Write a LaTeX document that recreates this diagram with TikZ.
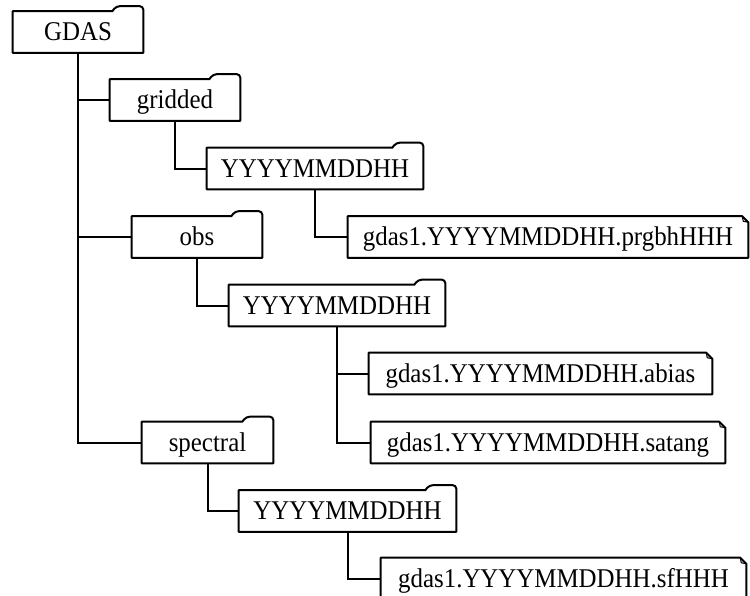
\documentclass[tikz,border=0pt]{standalone}
\usepackage{fontspec}
\setmainfont{Liberation Serif}
\usepackage{graphicx}
\usetikzlibrary{calc}
\newlength\px \setlength\px{0.75pt}
\newcommand\lbl[1]{\scalebox{0.92}[1]{#1}}
\tikzset{
  outline/.style={line width=1.5pt, line join=round},
  link/.style={line width=1.5pt},
  item/.style={inner sep=0pt, minimum height=41\px, text height=15.4pt, text depth=2pt,
    font=\fontsize{20.3}{24}\selectfont},
}
% folder outline with a tab on the upper right
\newcommand\folder[1]{%
  \draw[outline] ($(#1.north east)+(-31,0)$) -- (#1.north west) -- (#1.south west)
    -- (#1.south east) [rounded corners=2.5pt] -- ($(#1.north east)+(0,-5)$)
    -- ($(#1.north east)+(-27,-5)$) [sharp corners] -- cycle;}
% file outline with a folded upper right corner
\newcommand\docfile[1]{%
  \draw[outline] ($(#1.north east)+(-6,0)$) -- (#1.north west) -- (#1.south west)
    -- (#1.south east) -- ($(#1.north east)+(0,6)$) -- cycle;
  \draw[line width=0.8pt] ($(#1.north east)+(-6,0)$) -- ($(#1.north east)+(-5,5)$)
    -- ($(#1.north east)+(0,6)$);}
\begin{document}
\begin{tikzpicture}[x=0.75pt, y=-0.75pt]
  \useasboundingbox (0,0) rectangle (750,596);
  \clip (0,0) rectangle (750,596);

  % directories
  \node[item, minimum width=130\px] (gdas)     at (78,32)      {\lbl{GDAS}};
  \node[item, minimum width=130\px] (gridded)  at (175,100)    {\lbl{gridded}};
  \node[item, minimum width=216\px] (gdate)    at (315,168.5)  {\lbl{YYYYMMDDHH}};
  \node[item, minimum width=130\px] (obs)      at (197,237)    {\lbl{obs}};
  \node[item, minimum width=216\px] (odate)    at (337,305.5)  {\lbl{YYYYMMDDHH}};
  \node[item, minimum width=131\px] (spectral) at (207.5,442.5) {\lbl{spectral}};
  \node[item, minimum width=217\px] (sdate)    at (347.5,511)  {\lbl{YYYYMMDDHH}};

  % files
  \node[item, minimum width=400\px] (prgbh)  at (548,237)     {\lbl{gdas1.YYYYMMDDHH.prgbhHHH}};
  \node[item, minimum width=343\px] (abias)  at (540.5,373.5) {\lbl{gdas1.YYYYMMDDHH.abias}};
  \node[item, minimum width=354\px] (satang) at (548,442.5)   {\lbl{gdas1.YYYYMMDDHH.satang}};
  \node[item, minimum width=365\px] (sfhhh)  at (563.5,578.5) {\lbl{gdas1.YYYYMMDDHH.sfHHH}};

  \foreach \n in {gdas,gridded,gdate,obs,odate,spectral,sdate} {\folder{\n}}
  \foreach \n in {prgbh,abias,satang,sfhhh} {\docfile{\n}}

  % tree connectors
  \draw[link] (gdas.south) |- (gridded.west);
  \draw[link] (gdas.south) |- (obs.west);
  \draw[link] (gdas.south) |- (spectral.west);
  \draw[link] (gridded.south) |- (gdate.west);
  \draw[link] (gdate.south) |- (prgbh.west);
  \draw[link] (obs.south) |- (odate.west);
  \draw[link] (odate.south) |- (abias.west);
  \draw[link] (odate.south) |- (satang.west);
  \draw[link] (spectral.south) |- (sdate.west);
  \draw[link] (sdate.south) |- (sfhhh.west);
\end{tikzpicture}
\end{document}
